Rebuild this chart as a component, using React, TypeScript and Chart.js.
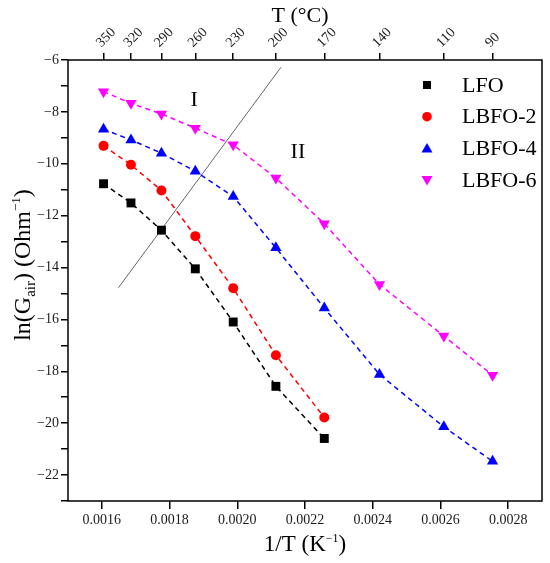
import React, { useEffect, useRef } from "react";
import { Chart, registerables } from "chart.js";

Chart.register(...registerables);

// 1/T (K^-1) positions of the measured temperatures
const invT = [0.001605, 0.001686, 0.001776, 0.001876, 0.001988, 0.002114, 0.002257, 0.00242, 0.00261, 0.002754];
const tempLabels = ["350", "320", "290", "260", "230", "200", "170", "140", "110", "90"];
const xTicks = [0.0016, 0.0018, 0.002, 0.0022, 0.0024, 0.0026, 0.0028];

const lfo = [-10.77, -11.51, -12.56, -14.05, -16.1, -18.58, -20.59];
const lbfo2 = [-9.31, -10.04, -11.03, -12.79, -14.8, -17.38, -19.78];
const lbfo4 = [-8.67, -9.08, -9.59, -10.29, -11.26, -13.24, -15.56, -18.12, -20.14, -21.47];
const lbfo6 = [-7.22, -7.67, -8.08, -8.63, -9.27, -10.55, -12.31, -14.65, -16.64, -18.15];

const boundaryX = [0.001649, 0.002129];
const boundaryY = [-14.78, -6.28];

const regionLabels = ["I", "II"];
const regionX = [0.001873, 0.002179];
const regionY = [-7.54, -9.57];

const seriesNames = ["LFO", "LBFO-2", "LBFO-4", "LBFO-6"];
const seriesColors = ["#000000", "#ff0000", "#0000ff", "#ff00ff"];

const FONT = "'Liberation Serif', 'DejaVu Serif', serif";

function toPoints(ys: number[]) {
  return ys.map((y, i) => ({ x: invT[i], y }));
}

type Seg = { t: string; size: number; dy?: number };

function drawRich(ctx: CanvasRenderingContext2D, segs: Seg[], cx: number, baseY: number) {
  let total = 0;
  for (const s of segs) {
    ctx.font = `${s.size}px ${FONT}`;
    total += ctx.measureText(s.t).width;
  }
  let x = cx - total / 2;
  ctx.textAlign = "left";
  ctx.textBaseline = "alphabetic";
  for (const s of segs) {
    ctx.font = `${s.size}px ${FONT}`;
    ctx.fillText(s.t, x, baseY + (s.dy || 0));
    x += ctx.measureText(s.t).width;
  }
}

function drawMarker(ctx: CanvasRenderingContext2D, kind: number, x: number, y: number, color: string) {
  ctx.fillStyle = color;
  ctx.beginPath();
  if (kind === 0) {
    ctx.rect(x - 4, y - 4, 8, 8);
  } else if (kind === 1) {
    ctx.arc(x, y, 4.8, 0, Math.PI * 2);
  } else if (kind === 2) {
    ctx.moveTo(x, y - 5.5);
    ctx.lineTo(x + 5.5, y + 4);
    ctx.lineTo(x - 5.5, y + 4);
    ctx.closePath();
  } else {
    ctx.moveTo(x, y + 5.5);
    ctx.lineTo(x + 5.5, y - 4);
    ctx.lineTo(x - 5.5, y - 4);
    ctx.closePath();
  }
  ctx.fill();
}

const decorPlugin = {
  id: "decor",
  afterDraw(chart: any) {
    const ctx: CanvasRenderingContext2D = chart.ctx;
    const a = chart.chartArea;
    const xs = chart.scales.x;
    const ys = chart.scales.y;
    ctx.save();
    // frame
    ctx.strokeStyle = "#000";
    ctx.lineWidth = 1.5;
    ctx.strokeRect(a.left, a.top, a.right - a.left, a.bottom - a.top);

    ctx.fillStyle = "#000";
    // region labels
    ctx.font = `22px ${FONT}`;
    ctx.textAlign = "center";
    ctx.textBaseline = "middle";
    regionLabels.forEach((t, i) => {
      ctx.fillText(t, xs.getPixelForValue(regionX[i]), ys.getPixelForValue(regionY[i]));
    });

    // top title
    drawRich(ctx, [{ t: "T (°C)", size: 22 }], 300, 22);
    // bottom title
    drawRich(
      ctx,
      [
        { t: "1/T (K", size: 23 },
        { t: "−1", size: 12, dy: -9 },
        { t: ")", size: 23 },
      ],
      305,
      551
    );
    // y title
    ctx.save();
    ctx.translate(30, 265);
    ctx.rotate(-Math.PI / 2);
    drawRich(
      ctx,
      [
        { t: "ln(G", size: 24 },
        { t: "air", size: 15, dy: 5 },
        { t: ") (Ohm", size: 24 },
        { t: "−1", size: 13, dy: -10 },
        { t: ")", size: 24 },
      ],
      0,
      0
    );
    ctx.restore();

    // legend
    const mx = a.right - 115;
    const tx = a.right - 80;
    seriesNames.forEach((name, i) => {
      const y = a.top + 25 + i * 31.7;
      drawMarker(ctx, i, mx, y, seriesColors[i]);
      ctx.fillStyle = "#000";
      ctx.font = `22px ${FONT}`;
      ctx.textAlign = "left";
      ctx.textBaseline = "middle";
      ctx.fillText(name, tx, y + 1);
    });
    ctx.restore();
  },
};

export default function App() {
  const ref = useRef<HTMLCanvasElement | null>(null);

  useEffect(() => {
    document.body.style.margin = "0";
    const canvas = ref.current;
    if (!canvas) return;

    const styles = ["rect", "circle", "triangle", "triangle"];
    const radii = [6.3, 5, 6.5, 6.5];
    const rotations = [0, 0, 0, 180];
    const allSeries = [lfo, lbfo2, lbfo4, lbfo6];

    const datasets: any[] = allSeries.map((ys, i) => ({
      label: seriesNames[i],
      data: toPoints(ys),
      showLine: true,
      borderColor: seriesColors[i],
      backgroundColor: seriesColors[i],
      borderWidth: 1.5,
      borderDash: [5, 4],
      pointStyle: styles[i],
      pointRadius: radii[i],
      pointRotation: rotations[i],
      pointBorderWidth: 0,
      pointBackgroundColor: seriesColors[i],
      xAxisID: "x",
      yAxisID: "y",
      order: 1,
    }));

    datasets.push({
      label: "boundary",
      data: boundaryX.map((x, i) => ({ x, y: boundaryY[i] })),
      showLine: true,
      borderColor: "#666666",
      borderWidth: 1,
      pointRadius: 0,
      xAxisID: "x",
      yAxisID: "y",
      order: 5,
    });

    const tickFont = { family: FONT, size: 14 };

    const chart = new Chart(canvas, {
      type: "scatter",
      data: { datasets },
      plugins: [decorPlugin],
      options: {
        animation: false,
        responsive: true,
        maintainAspectRatio: false,
        layout: { padding: { left: 0, right: 8, top: 0, bottom: 0 } },
        plugins: {
          legend: { display: false },
          tooltip: { enabled: false },
        },
        scales: {
          x: {
            type: "linear",
            position: "bottom",
            min: 0.0015,
            max: 0.0029,
            afterBuildTicks: (scale: any) => {
              scale.ticks = xTicks.map((v) => ({ value: v }));
            },
            afterFit: (scale: any) => {
              scale.height = 62;
            },
            ticks: {
              autoSkip: false,
              maxRotation: 0,
              minRotation: 0,
              padding: 3,
              color: "#1a1a1a",
              font: tickFont,
              callback: (v: any) => Number(v).toFixed(4),
            },
            grid: { drawOnChartArea: false, tickLength: 8, color: "#000", lineWidth: 1.5 },
            border: { display: false },
          },
          x2: {
            type: "linear",
            position: "top",
            min: 0.0015,
            max: 0.0029,
            afterBuildTicks: (scale: any) => {
              scale.ticks = invT.map((v) => ({ value: v }));
            },
            afterFit: (scale: any) => {
              scale.height = 60;
            },
            ticks: {
              autoSkip: false,
              maxRotation: 45,
              minRotation: 45,
              padding: 2,
              labelOffset: 7,
              color: "#1a1a1a",
              font: tickFont,
              callback: (_v: any, i: number) => tempLabels[i],
            },
            grid: { drawOnChartArea: false, tickLength: 7, color: "#000", lineWidth: 1.5 },
            border: { display: false },
          },
          y: {
            type: "linear",
            position: "left",
            min: -23,
            max: -6,
            afterFit: (scale: any) => {
              scale.width = 68;
            },
            ticks: {
              stepSize: 1,
              autoSkip: false,
              padding: 2,
              color: "#1a1a1a",
              font: tickFont,
              callback: (v: any) => {
                const n = Number(v);
                if (Math.abs(n % 2) > 0.001) return "";
                return n < 0 ? "−" + Math.abs(n) : String(n);
              },
            },
            grid: { drawOnChartArea: false, tickLength: 7, color: "#000", lineWidth: 1.5 },
            border: { display: false },
          },
        },
      } as any,
    });

    return () => chart.destroy();
  }, []);

  return (
    <div style={{ width: 550, height: 563, position: "relative", background: "#fff" }}>
      <canvas ref={ref} />
    </div>
  );
}
